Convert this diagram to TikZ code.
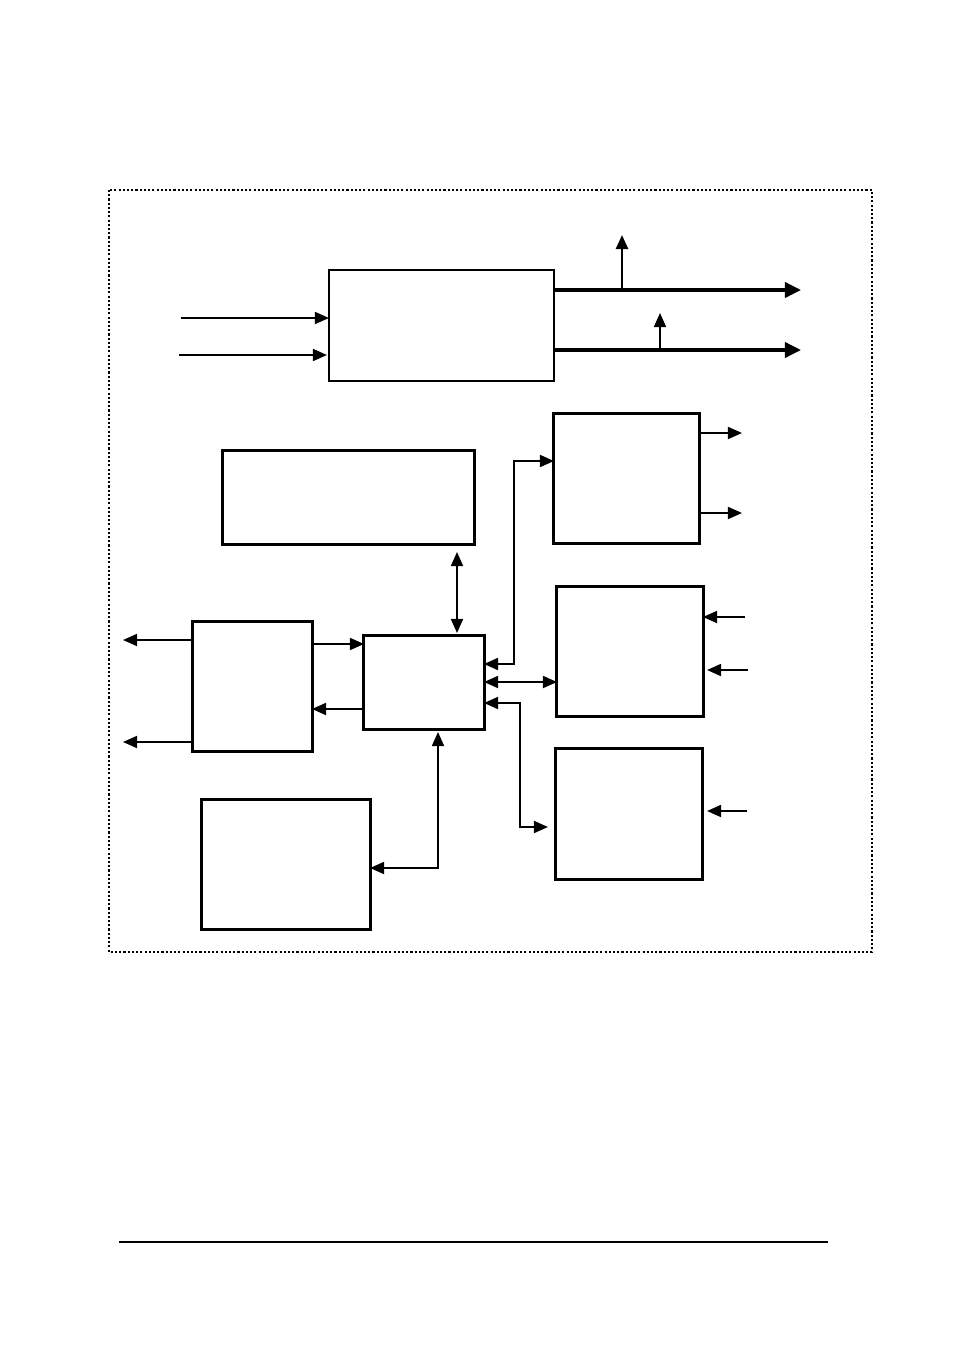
\documentclass[tikz,border=0pt]{standalone}
\usetikzlibrary{arrows.meta}
\begin{document}
\begin{tikzpicture}[
  x=0.01cm,y=-0.01cm,
  block/.style={
    draw,
    line width=0.85pt,
    inner sep=0pt,
    outer sep=0pt
  },
  arrow/.style={-{Triangle[length=1.4mm,width=1.2mm]},line width=0.5pt},
  twoway/.style={{Triangle[length=1.4mm,width=1.2mm]}-{Triangle[length=1.4mm,width=1.2mm]},line width=0.5pt},
  busarrow/.style={-{Triangle[length=1.6mm,width=1.5mm]},line width=1pt}
]
  \useasboundingbox (0,0) rectangle (954,1351);
  \draw[dash pattern=on 0.6pt off 0.6pt,line width=0.5pt] (109,190) rectangle (872,952);

  \node[block,line width=0.6pt,minimum width=2.25cm,minimum height=1.11cm] (codec) at (441.5,325.5) {};
  \node[block,minimum width=2.51cm,minimum height=0.93cm] (memory) at (348.5,497.5) {};
  \node[block,minimum width=1.19cm,minimum height=1.29cm] (iface) at (252.5,686.5) {};
  \node[block,minimum width=1.20cm,minimum height=0.93cm] (cpu) at (424,682.5) {};
  \node[block,minimum width=1.68cm,minimum height=1.29cm] (store) at (286,864.5) {};
  \node[block,minimum width=1.45cm,minimum height=1.29cm] (outA) at (626.5,478.5) {};
  \node[block,minimum width=1.46cm,minimum height=1.29cm] (inA) at (630,651.5) {};
  \node[block,minimum width=1.46cm,minimum height=1.30cm] (inB) at (629,814) {};

  \coordinate (in1) at (181,318);
  \coordinate (in2) at (179,355);
  \draw[arrow] (in1) -- (in1 -| codec.west);
  \draw[arrow,shorten >=0.2mm] (in2) -- (in2 -| codec.west);

  \coordinate (out1) at (801,290);
  \coordinate (out2) at (801,350);
  \coordinate (tap1) at (622,235);
  \coordinate (tap2) at (660,313);
  \draw[busarrow] (out1 -| codec.east) -- (out1);
  \draw[busarrow] (out2 -| codec.east) -- (out2);
  \draw[arrow,line width=0.7pt] (tap1 |- out1) -- (tap1);
  \draw[arrow] (tap2 |- out2) -- (tap2);

  \coordinate (bus) at (457,0);
  \draw[twoway,shorten <=0.8mm,shorten >=0.3mm] (memory.south -| bus) -- (cpu.north -| bus);

  \coordinate (r1) at (0,644);
  \coordinate (r0) at (0,709);
  \draw[arrow] (r1 -| iface.east) -- (r1 -| cpu.west);
  \draw[arrow] (r0 -| cpu.west) -- (r0 -| iface.east);

  \coordinate (l1) at (123,640);
  \coordinate (l2) at (123,742);
  \draw[arrow] (l1 -| iface.west) -- (l1);
  \draw[arrow] (l2 -| iface.west) -- (l2);

  \coordinate (o1) at (742,433);
  \coordinate (o2) at (742,513);
  \draw[arrow] (o1 -| outA.east) -- (o1);
  \draw[arrow] (o2 -| outA.east) -- (o2);

  \coordinate (r2) at (514,664);
  \coordinate (r3) at (514,461);
  \draw[twoway] (r2 -| cpu.east) -- (r2) -- (r3) -- (r3 -| outA.west);

  \coordinate (r4) at (0,682);
  \draw[twoway] (r4 -| cpu.east) -- (r4 -| inA.west);

  \coordinate (r5) at (520,703);
  \coordinate (r6) at (520,827);
  \draw[twoway,shorten >=0.8mm] (r5 -| cpu.east) -- (r5) -- (r6) -- (r6 -| inB.west);

  \coordinate (i1) at (745,617);
  \coordinate (i2) at (748,670);
  \coordinate (i3) at (747,811);
  \draw[arrow] (i1) -- (i1 -| inA.east);
  \draw[arrow,shorten >=0.4mm] (i2) -- (i2 -| inA.east);
  \draw[arrow,shorten >=0.5mm] (i3) -- (i3 -| inB.east);

  \coordinate (r7) at (438,868);
  \draw[twoway,shorten <=0.3mm] (cpu.south -| r7) -- (r7) -- (r7 -| store.east);

  \draw[line width=0.6pt] (119,1242) -- (828,1242);
\end{tikzpicture}
\end{document}
